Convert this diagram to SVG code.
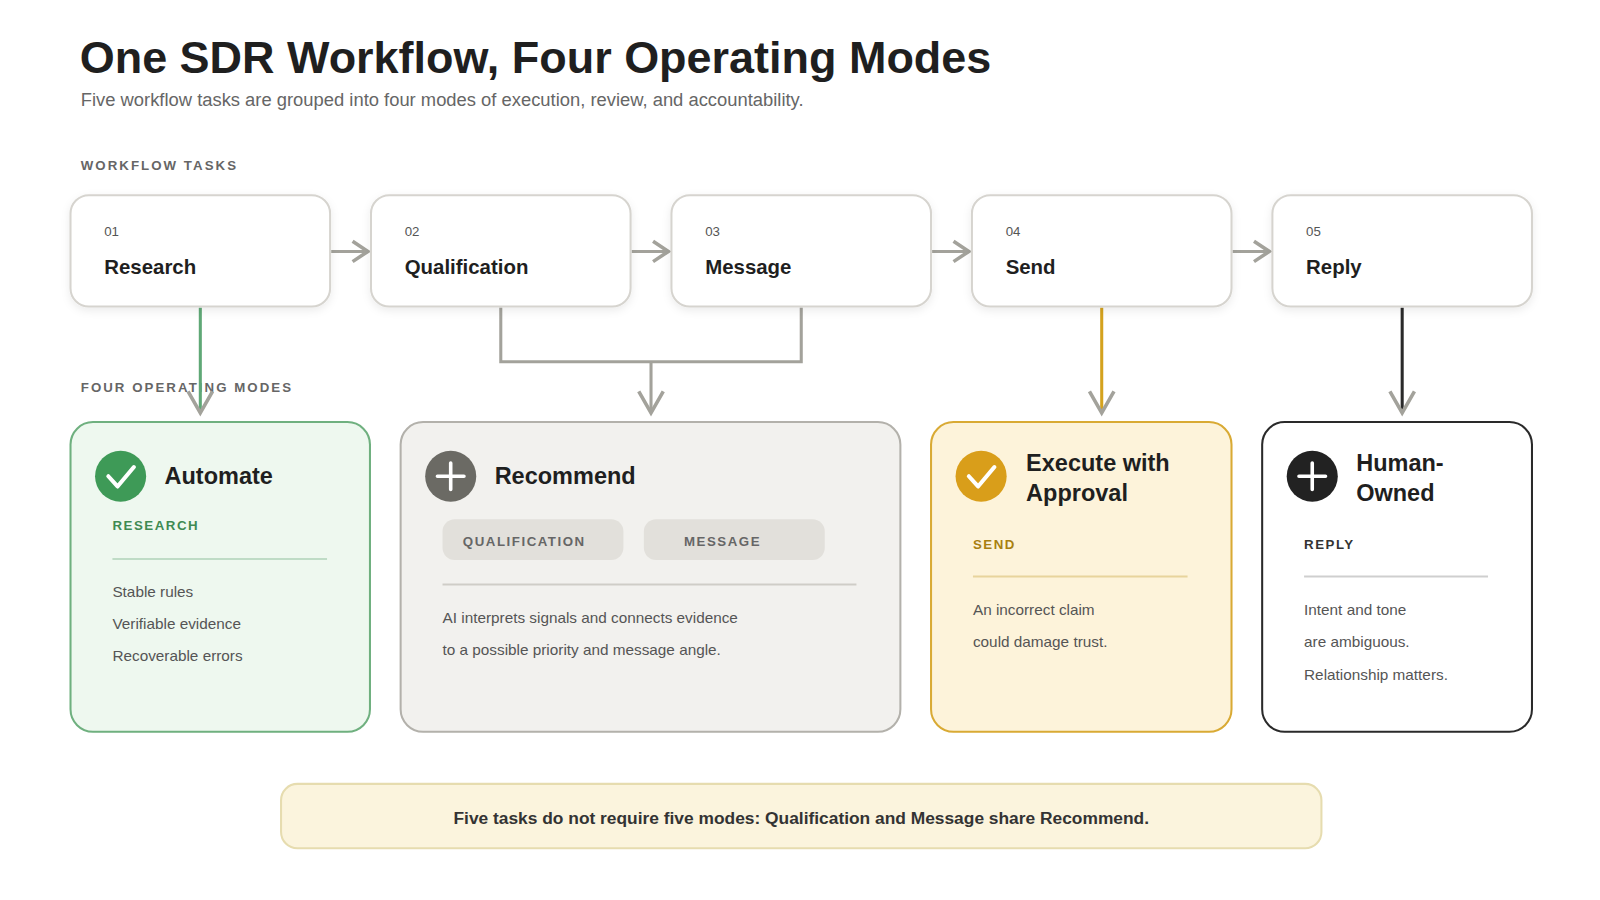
<svg xmlns="http://www.w3.org/2000/svg" width="1600" height="900" viewBox="0 0 1600 900">
<defs>
<marker id="chev" viewBox="0 0 24 24" refX="20" refY="12" markerWidth="24" markerHeight="24" markerUnits="userSpaceOnUse" orient="auto"><path d="M5 2 L20 12 L5 22" fill="none" stroke="#a3a29b" stroke-width="3.5"/></marker>
<marker id="chevB" viewBox="0 0 30 30" refX="25" refY="15" markerWidth="30" markerHeight="30" markerUnits="userSpaceOnUse" orient="auto"><path d="M4 3 L25 15 L4 27" fill="none" stroke="#a3a29b" stroke-width="3.5"/></marker>
<filter id="sh" x="-10%" y="-10%" width="120%" height="130%"><feDropShadow dx="0" dy="3" stdDeviation="4" flood-color="#000" flood-opacity="0.08"/></filter>
</defs>
<style>
text{font-family:"Liberation Sans",Arial,sans-serif}
.task{fill:#fff;stroke:#d6d4cf;stroke-width:2;filter:url(#sh)}
.num{font-size:13px;fill:#555}
.tname{font-size:20px;font-weight:bold;fill:#1f1f1f}
.sec{font-size:13px;font-weight:bold;letter-spacing:2px;fill:#666}
.mt{font-size:23px;font-weight:bold;fill:#1f1f1f}
.tag{font-size:13px;font-weight:bold;letter-spacing:1.5px}
.body{font-size:15px;fill:#555}
</style>
<rect width="1600" height="900" fill="#fff"/>
<g transform="scale(1.022)">
<text x="78" y="71" font-size="44" font-weight="bold" fill="#1f1f1f">One SDR Workflow, Four Operating Modes</text>
<text x="79" y="104" font-size="18" fill="#666">Five workflow tasks are grouped into four modes of execution, review, and accountability.</text>
<text x="79" y="166" class="sec">WORKFLOW TASKS</text>
<text x="79" y="384" class="sec">FOUR OPERATING MODES</text>

<g id="connectors" fill="none" stroke-width="3">
<line x1="324" y1="246" x2="360" y2="246" stroke="#a3a29b" marker-end="url(#chev)"/>
<line x1="618" y1="246" x2="654" y2="246" stroke="#a3a29b" marker-end="url(#chev)"/>
<line x1="912" y1="246" x2="948" y2="246" stroke="#a3a29b" marker-end="url(#chev)"/>
<line x1="1206" y1="246" x2="1242" y2="246" stroke="#a3a29b" marker-end="url(#chev)"/>
<line x1="196" y1="301" x2="196" y2="404" stroke="#5fa876" marker-end="url(#chevB)"/>
<polyline points="490,301 490,354 784,354 784,301" stroke="#a3a29b"/>
<line x1="637" y1="354" x2="637" y2="404" stroke="#a3a29b" marker-end="url(#chevB)"/>
<line x1="1078" y1="301" x2="1078" y2="404" stroke="#d4a21e" marker-end="url(#chevB)"/>
<line x1="1372" y1="301" x2="1372" y2="404" stroke="#2a2a2a" marker-end="url(#chevB)"/>
</g>

<g id="task1"><rect x="69" y="191" width="254" height="109" rx="18" class="task"/><text x="102" y="231" class="num">01</text><text x="102" y="268" class="tname">Research</text></g>
<g id="task2"><rect x="363" y="191" width="254" height="109" rx="18" class="task"/><text x="396" y="231" class="num">02</text><text x="396" y="268" class="tname">Qualification</text></g>
<g id="task3"><rect x="657" y="191" width="254" height="109" rx="18" class="task"/><text x="690" y="231" class="num">03</text><text x="690" y="268" class="tname">Message</text></g>
<g id="task4"><rect x="951" y="191" width="254" height="109" rx="18" class="task"/><text x="984" y="231" class="num">04</text><text x="984" y="268" class="tname">Send</text></g>
<g id="task5"><rect x="1245" y="191" width="254" height="109" rx="18" class="task"/><text x="1278" y="231" class="num">05</text><text x="1278" y="268" class="tname">Reply</text></g>

<g id="automate">
<rect x="69" y="413" width="293" height="303" rx="22" fill="#eef8ef" stroke="#6fb07f" stroke-width="2"/>
<circle cx="118" cy="466" r="25" fill="#3e9a57"/>
<path d="M106 466 L115 476 L131 457" fill="none" stroke="#fff" stroke-width="4" stroke-linecap="round" stroke-linejoin="round"/>
<text x="161" y="474" class="mt">Automate</text>
<text x="110" y="519" class="tag" fill="#3e8a52">RESEARCH</text>
<line x1="110" y1="547" x2="320" y2="547" stroke="#bfdcc6" stroke-width="2"/>
<text x="110" y="584" class="body">Stable rules</text>
<text x="110" y="615" class="body">Verifiable evidence</text>
<text x="110" y="647" class="body">Recoverable errors</text>
</g>

<g id="recommend">
<rect x="392" y="413" width="489" height="303" rx="22" fill="#f2f1ee" stroke="#b3b1ab" stroke-width="2"/>
<circle cx="441" cy="466" r="25" fill="#6b6a64"/>
<path d="M441 453 V479 M428 466 H454" stroke="#fff" stroke-width="3.5" stroke-linecap="round"/>
<text x="484" y="474" class="mt">Recommend</text>
<rect x="433" y="508" width="177" height="40" rx="12" fill="#e2e0db"/>
<text x="513" y="534" class="tag" fill="#666" text-anchor="middle">QUALIFICATION</text>
<rect x="630" y="508" width="177" height="40" rx="12" fill="#e2e0db"/>
<text x="707" y="534" class="tag" fill="#666" text-anchor="middle">MESSAGE</text>
<line x1="433" y1="572" x2="838" y2="572" stroke="#cfcdc7" stroke-width="2"/>
<text x="433" y="610" class="body">AI interprets signals and connects evidence</text>
<text x="433" y="641" class="body">to a possible priority and message angle.</text>
</g>

<g id="approval">
<rect x="911" y="413" width="294" height="303" rx="22" fill="#fdf3da" stroke="#d9aa34" stroke-width="2"/>
<circle cx="960" cy="466" r="25" fill="#d99e1a"/>
<path d="M948 466 L957 476 L973 457" fill="none" stroke="#fff" stroke-width="4" stroke-linecap="round" stroke-linejoin="round"/>
<text x="1004" y="461" class="mt">Execute with</text>
<text x="1004" y="490" class="mt">Approval</text>
<text x="952" y="537" class="tag" fill="#a87f10">SEND</text>
<line x1="952" y1="564" x2="1162" y2="564" stroke="#e8d49c" stroke-width="2"/>
<text x="952" y="602" class="body">An incorrect claim</text>
<text x="952" y="633" class="body">could damage trust.</text>
</g>

<g id="human">
<rect x="1235" y="413" width="264" height="303" rx="22" fill="#fff" stroke="#2a2a2a" stroke-width="2"/>
<circle cx="1284" cy="466" r="25" fill="#222"/>
<path d="M1284 453 V479 M1271 466 H1297" stroke="#fff" stroke-width="3.5" stroke-linecap="round"/>
<text x="1327" y="461" class="mt">Human-</text>
<text x="1327" y="490" class="mt">Owned</text>
<text x="1276" y="537" class="tag" fill="#333">REPLY</text>
<line x1="1276" y1="564" x2="1456" y2="564" stroke="#cfcfcf" stroke-width="2"/>
<text x="1276" y="602" class="body">Intent and tone</text>
<text x="1276" y="633" class="body">are ambiguous.</text>
<text x="1276" y="665" class="body">Relationship matters.</text>
</g>

<g id="footer">
<rect x="275" y="767" width="1018" height="63" rx="16" fill="#fbf4dd" stroke="#e6dcaf" stroke-width="2"/>
<text x="784" y="806" font-size="17" font-weight="bold" fill="#333" text-anchor="middle">Five tasks do not require five modes: Qualification and Message share Recommend.</text>
</g>
</g>
</svg>
